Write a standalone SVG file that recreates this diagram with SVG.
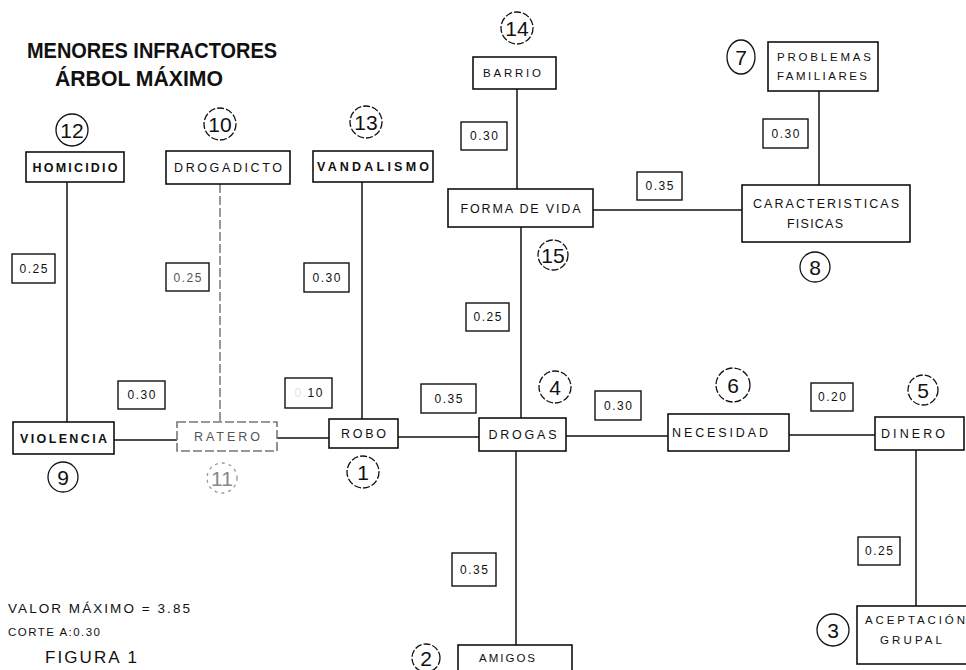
<svg xmlns="http://www.w3.org/2000/svg" width="966" height="670" viewBox="0 0 966 670">
<style>
.box{fill:#fff;stroke:#111;stroke-width:1.6}
.lbl{fill:#fff;stroke:#111;stroke-width:1.4}
.ln{stroke:#111;stroke-width:1.5;fill:none}
.t{font-family:"Liberation Sans",Arial,sans-serif;font-size:12.5px;fill:#111;text-anchor:middle}
.s{font-size:11.5px}
.st{text-anchor:start}
.b{font-weight:bold}
.v{font-family:"Liberation Sans",Arial,sans-serif;font-size:12px;fill:#111;text-anchor:middle}
.c{fill:none;stroke:#111;stroke-width:1.3}
.cd{stroke-dasharray:7 2}
.n{font-family:"Liberation Sans",Arial,sans-serif;font-size:21px;fill:#111;text-anchor:middle}
.title{font-family:"Liberation Sans",Arial,sans-serif;font-weight:bold;font-size:20px;fill:#111}
.plain{font-family:"Liberation Sans",Arial,sans-serif;fill:#111}
.faded{stroke:#777;stroke-dasharray:9 3}
.fadedtxt{fill:#555}
</style>
<rect x="0" y="0" width="966" height="670" fill="#fff"/>

<g id="title">
<text class="title" transform="translate(27,58) scale(1,1.1)" textLength="250" lengthAdjust="spacingAndGlyphs">MENORES INFRACTORES</text>
<text class="title" transform="translate(55,86) scale(1,1.1)" textLength="168" lengthAdjust="spacingAndGlyphs">ÁRBOL MÁXIMO</text>
</g>

<g id="connectors">
<line class="ln" x1="67" y1="182" x2="67" y2="422"/>
<line class="ln faded" x1="220" y1="184" x2="220" y2="422"/>
<line class="ln" x1="362" y1="182" x2="362" y2="419"/>
<line class="ln" x1="517" y1="89" x2="517" y2="189"/>
<line class="ln" x1="593" y1="210" x2="742" y2="210"/>
<line class="ln" x1="819" y1="91" x2="819" y2="185"/>
<line class="ln" x1="521" y1="227" x2="521" y2="418"/>
<line class="ln" x1="114" y1="440" x2="177" y2="440"/>
<line class="ln" x1="277" y1="438" x2="329" y2="438"/>
<line class="ln" x1="398" y1="437" x2="479" y2="437"/>
<line class="ln" x1="566" y1="436" x2="668" y2="436"/>
<line class="ln" x1="789" y1="435" x2="875" y2="435"/>
<line class="ln" x1="916" y1="450" x2="916" y2="606"/>
<line class="ln" x1="516" y1="451" x2="516" y2="645"/>

<g id="w-homicidio-violencia"><rect class="lbl" x="12" y="254" width="43" height="29"/><text class="v" x="33.5" y="273" textLength="28">0.25</text></g>
<g id="w-drogadicto-ratero"><rect class="lbl" x="166" y="263" width="43" height="28"/><text class="v fadedtxt" x="187.5" y="281.5" textLength="28">0.25</text></g>
<g id="w-vandalismo-robo"><rect class="lbl" x="304" y="263" width="45" height="29"/><text class="v" x="326.5" y="282" textLength="28">0.30</text></g>
<g id="w-violencia-ratero"><rect class="lbl" x="118" y="381" width="47" height="28"/><text class="v" x="141.5" y="399" textLength="28">0.30</text></g>
<g id="w-ratero-robo"><rect class="lbl" x="285" y="378" width="47" height="30"/><text class="v" x="308.5" y="397" textLength="28"><tspan fill="#e4e4e4">0.</tspan>10</text></g>
<g id="w-robo-drogas"><rect class="lbl" x="421" y="384" width="55" height="29"/><text class="v" x="448.5" y="403" textLength="28">0.35</text></g>
<g id="w-barrio-forma"><rect class="lbl" x="461" y="122" width="46" height="28"/><text class="v" x="484" y="140" textLength="28">0.30</text></g>
<g id="w-forma-caracteristicas"><rect class="lbl" x="637" y="172" width="45" height="28"/><text class="v" x="659.5" y="190" textLength="28">0.35</text></g>
<g id="w-problemas-caracteristicas"><rect class="lbl" x="763" y="119" width="45" height="29"/><text class="v" x="785.5" y="137.5" textLength="28">0.30</text></g>
<g id="w-forma-drogas"><rect class="lbl" x="466" y="303" width="43" height="28"/><text class="v" x="487.5" y="321" textLength="28">0.25</text></g>
<g id="w-drogas-necesidad"><rect class="lbl" x="595" y="391" width="46" height="29"/><text class="v" x="618" y="409.5" textLength="28">0.30</text></g>
<g id="w-necesidad-dinero"><rect class="lbl" x="811" y="383" width="42" height="28"/><text class="v" x="832" y="401" textLength="28">0.20</text></g>
<g id="w-dinero-aceptacion"><rect class="lbl" x="858" y="537" width="42" height="28"/><text class="v" x="879" y="555" textLength="28">0.25</text></g>
<g id="w-drogas-amigos"><rect class="lbl" x="452" y="553" width="44" height="33"/><text class="v" x="474" y="573.5" textLength="28">0.35</text></g>
</g>

<g id="node-homicidio">
<rect class="box" x="26" y="152" width="98" height="30"/>
<text class="t b" x="75" y="171.5" textLength="85">HOMICIDIO</text>
<circle class="c" cx="72" cy="130" r="16"/><text class="n" x="72" y="137.5">12</text>
</g>
<g id="node-drogadicto">
<rect class="box" x="166" y="151" width="124" height="33"/>
<text class="t" x="228" y="172" textLength="108">DROGADICTO</text>
<circle class="c cd" cx="220" cy="124" r="16"/><text class="n" x="220" y="131.5">10</text>
</g>
<g id="node-vandalismo">
<rect class="box" x="313" y="151" width="120" height="31"/>
<text class="t b" x="373" y="171" textLength="112">VANDALISMO</text>
<circle class="c cd" cx="366" cy="122" r="16"/><text class="n" x="366" y="129.5">13</text>
</g>
<g id="node-barrio">
<rect class="box" x="473" y="57" width="83" height="32"/>
<text class="t s" x="512" y="77" textLength="58">BARRIO</text>
<circle class="c cd" cx="517" cy="28" r="16"/><text class="n" x="517" y="35.5">14</text>
</g>
<g id="node-forma-de-vida">
<rect class="box" x="448" y="189" width="145" height="38"/>
<text class="t" x="520.5" y="212.5" textLength="120">FORMA DE VIDA</text>
<circle class="c cd" cx="553" cy="255" r="15"/><text class="n" x="553" y="262.5">15</text>
</g>
<g id="node-problemas-familiares">
<rect class="box" x="768" y="42" width="110" height="49"/>
<text class="t s" x="824" y="61" textLength="94">PROBLEMAS</text>
<text class="t s" x="822" y="80" textLength="90">FAMILIARES</text>
<ellipse class="c" cx="741" cy="57" rx="14" ry="17"/><text class="n" x="741" y="64.5">7</text>
</g>
<g id="node-caracteristicas-fisicas">
<rect class="box" x="742" y="185" width="168" height="57"/>
<text class="t" x="826" y="208" textLength="146">CARACTERISTICAS</text>
<text class="t" x="815" y="228" textLength="56">FISICAS</text>
<circle class="c" cx="815" cy="267" r="15"/><text class="n" x="815" y="274.5">8</text>
</g>
<g id="node-violencia">
<rect class="box" x="13" y="422" width="101" height="32"/>
<text class="t b" x="63.5" y="442.5" textLength="87">VIOLENCIA</text>
<circle class="c" cx="63" cy="477" r="15"/><text class="n" x="63" y="484.5">9</text>
</g>
<g id="node-ratero">
<rect class="box faded" x="177" y="422" width="100" height="29"/>
<text class="t fadedtxt" x="227" y="441" textLength="66">RATERO</text>
<circle class="c" cx="222" cy="478" r="15" style="stroke:#999;stroke-dasharray:3 4"/><text class="n" x="222" y="485.5" style="fill:#888">11</text>
</g>
<g id="node-robo">
<rect class="box" x="329" y="419" width="69" height="29"/>
<text class="t" x="363.5" y="438" textLength="45">ROBO</text>
<circle class="c cd" cx="363" cy="472" r="16"/><text class="n" x="363" y="479.5">1</text>
</g>
<g id="node-drogas">
<rect class="box" x="479" y="418" width="87" height="33"/>
<text class="t" x="522.5" y="439" textLength="68">DROGAS</text>
<circle class="c cd" cx="555" cy="387" r="16"/><text class="n" x="555" y="394.5">4</text>
</g>
<g id="node-necesidad">
<rect class="box" x="668" y="414" width="121" height="37"/>
<text class="t" x="720" y="437" textLength="96">NECESIDAD</text>
<circle class="c cd" cx="733" cy="385" r="17"/><text class="n" x="733" y="392.5">6</text>
</g>
<g id="node-dinero">
<rect class="box" x="875" y="417" width="89" height="33"/>
<text class="t" x="913" y="438" textLength="64">DINERO</text>
<circle class="c cd" cx="923" cy="390" r="15"/><text class="n" x="923" y="397.5">5</text>
</g>
<g id="node-amigos">
<rect class="box" x="458" y="645" width="114" height="30"/>
<text class="t s" x="507" y="662" textLength="56">AMIGOS</text>
<circle class="c cd" cx="426" cy="658" r="14"/><text class="n" x="426" y="665.5">2</text>
</g>
<g id="node-aceptacion-grupal">
<rect class="box" x="857" y="606" width="112" height="58"/>
<text class="t s st" x="865" y="624" textLength="100">ACEPTACIÓN</text>
<text class="t s st" x="880" y="644" textLength="62">GRUPAL</text>
<circle class="c" cx="833" cy="630" r="16"/><text class="n" x="833" y="637.5">3</text>
</g>

<g id="notes">
<text class="plain" x="8" y="613" font-size="13.5" textLength="182">VALOR MÁXIMO = 3.85</text>
<text class="plain" x="8" y="636" font-size="11.5" textLength="92">CORTE A:0.30</text>
<text class="plain" x="45" y="663" font-size="17" textLength="92">FIGURA 1</text>
</g>
</svg>
